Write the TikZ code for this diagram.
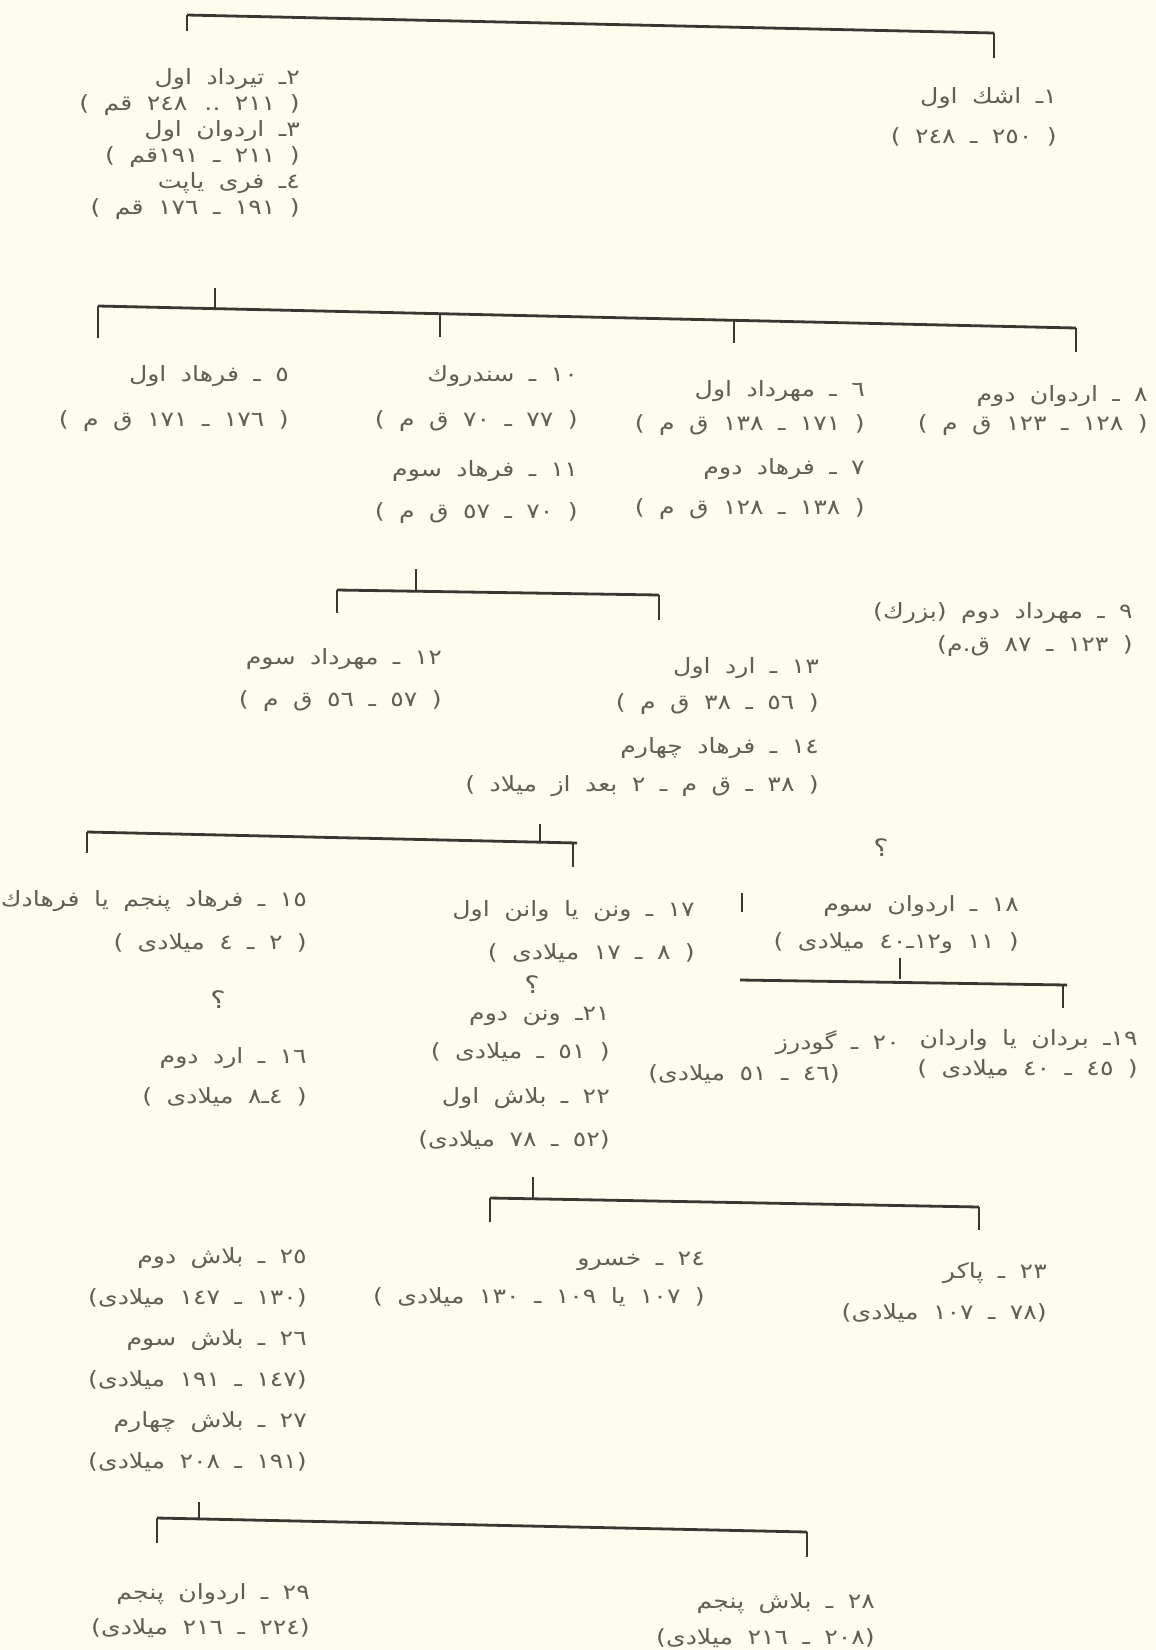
\documentclass[tikz,border=0pt]{standalone}
\usepackage{fontspec}
\newfontfamily\fa[Script=Arabic,WordSpace=1.8,FakeStretch=1.2]{DejaVu Sans}
\TeXXeTstate=1
\definecolor{paper}{RGB}{253,252,237}
\definecolor{ink}{RGB}{58,54,48}
\definecolor{type}{RGB}{98,94,86}
\newcommand\rtl[1]{\beginR#1\endR}

\begin{document}
\begin{tikzpicture}[x=1pt, y=-1pt,
  king/.style={font=\fa\fontsize{21}{26}\selectfont, text=type, align=right, anchor=north east, inner sep=0pt},
  query/.style={font=\fa\fontsize{24}{24}\selectfont, text=type, inner sep=0pt},
  bar/.style={draw=ink, line width=2.8pt},
  tick/.style={draw=ink, line width=2.6pt}
]
\fill[paper] (0,0) rectangle (1156,1650);

% kings
\node[king] (k1) at (1057,87) {\rtl{١ـ اشك اول}\\[14pt]\rtl{( ٢٥٠ ـ ٢٤٨ )}};
\node[king] (k2) at (300,68) {\rtl{٢ـ تيرداد اول}\\\rtl{( ٢١١ .. ٢٤٨ قم )}\\\rtl{٣ـ اردوان اول}\\\rtl{( ٢١١ ـ ١٩١قم )}\\\rtl{٤ـ فری ياپت}\\\rtl{( ١٩١ ـ ١٧٦ قم )}};
\node[king] (k5) at (289,365) {\rtl{٥ ـ فرهاد اول}\\[19pt]\rtl{( ١٧٦ ـ ١٧١ ق م )}};
\node[king] (k10) at (578,365) {\rtl{١٠ ـ سندروك}\\[19pt]\rtl{( ٧٧ ـ ٧٠ ق م )}\\[24pt]\rtl{١١ ـ فرهاد سوم}\\[16pt]\rtl{( ٧٠ ـ ٥٧ ق م )}};
\node[king] (k6) at (865,380) {\rtl{٦ ـ مهرداد اول}\\[8pt]\rtl{( ١٧١ ـ ١٣٨ ق م )}\\[18pt]\rtl{٧ ـ فرهاد دوم}\\[14pt]\rtl{( ١٣٨ ـ ١٢٨ ق م )}};
\node[king] (k8) at (1148,385) {\rtl{٨ ـ اردوان دوم}\\[3pt]\rtl{( ١٢٨ ـ ١٢٣ ق م )}};
\node[king] (k9) at (1133,602) {\rtl{٩ ـ مهرداد دوم (بزرك)}\\[7pt]\rtl{( ١٢٣ ـ ٨٧ ق.م)}};
\node[king] (k12) at (442,648) {\rtl{١٢ ـ مهرداد سوم}\\[16pt]\rtl{( ٥٧ ـ ٥٦ ق م )}};
\node[king] (k13) at (819,657) {\rtl{١٣ ـ ارد اول}\\[10pt]\rtl{( ٥٦ ـ ٣٨ ق م )}\\[18pt]\rtl{١٤ ـ فرهاد چهارم}\\[12pt]\rtl{( ٣٨ ـ ق م ـ ٢ بعد از ميلاد )}};
\node[king] (k15) at (307,890) {\rtl{١٥ ـ فرهاد پنجم یا فرهادك}\\[17pt]\rtl{( ٢ ـ ٤ ميلادی )}};
\node[king] (k16) at (307,1047) {\rtl{١٦ ـ ارد دوم}\\[14pt]\rtl{( ٤ـ٨ ميلادی )}};
\node[king] (k17) at (695,900) {\rtl{١٧ ـ ونن یا وانن اول}\\[17pt]\rtl{( ٨ ـ ١٧ ميلادی )}};
\node[king] (k21) at (610,1007) {\rtl{٢١ـ ونن دوم}\\[12pt]\rtl{( ٥١ ـ ميلادی )}\\[19pt]\rtl{٢٢ ـ بلاش اول}\\[17pt]\rtl{(٥٢ ـ ٧٨ ميلادی)}};
\node[king] (k18) at (1019,895) {\rtl{١٨ ـ اردوان سوم}\\[11pt]\rtl{( ١١ و١٢ـ٤٠ ميلادی )}};
\node[king] (k19) at (1138,1029) {\rtl{١٩ـ بردان یا واردان}\\[4pt]\rtl{( ٤٥ ـ ٤٠ ميلادی )}};
\node[king] (k20) at (900,1030) {\rtl{٢٠ ـ گودرز}};
\node[king] (k20d) at (840,1064) {\rtl{(٤٦ ـ ٥١ ميلادی)}};
\node[king] (k23) at (1047,1262) {\rtl{٢٣ ـ پاكر}\\[15pt]\rtl{(٧٨ ـ ١٠٧ ميلادی)}};
\node[king] (k24) at (705,1252) {\rtl{٢٤ ـ خسرو}\\[12pt]\rtl{( ١٠٧ یا ١٠٩ ـ ١٣٠ ميلادی )}};
\node[king] (k25) at (307,1247) {\rtl{٢٥ ـ بلاش دوم}\\[15pt]\rtl{(١٣٠ ـ ١٤٧ ميلادی)}\\[15pt]\rtl{٢٦ ـ بلاش سوم}\\[15pt]\rtl{(١٤٧ ـ ١٩١ ميلادی)}\\[15pt]\rtl{٢٧ ـ بلاش چهارم}\\[15pt]\rtl{(١٩١ ـ ٢٠٨ ميلادی)}};
\node[king] (k28) at (875,1592) {\rtl{٢٨ ـ بلاش پنجم}\\[10pt]\rtl{(٢٠٨ ـ ٢١٦ ميلادی)}};
\node[king] (k29) at (310,1583) {\rtl{٢٩ ـ اردوان پنجم}\\[9pt]\rtl{(٢٢٤ ـ ٢١٦ ميلادی)}};

% doubtful links
\node[query] (q18) at (881,848) {؟};
\node[query] (q15) at (218,1000) {؟};
\node[query] (q17) at (532,985) {؟};

% family bars
\coordinate (b1l) at (187,15);
\coordinate (b1r) at (994,33);
\draw[bar] (b1l) -- (b1r);
\draw[tick] (b1l) -- ++(0,16);
\draw[tick] (b1r) -- ++(0,25);

\coordinate (b2l) at (98,306);
\coordinate (b2r) at (1076,328);
\draw[bar] (b2l) -- (b2r);
\draw[tick] (215,308) -- ++(0,-20);
\draw[tick] (b2l) -- ++(0,32);
\draw[tick] (440,313) -- ++(0,24);
\draw[tick] (734,320) -- ++(0,23);
\draw[tick] (b2r) -- ++(0,24);

\coordinate (b3l) at (337,590);
\coordinate (b3r) at (659,595);
\draw[bar] (b3l) -- (b3r);
\draw[tick] (416,591) -- ++(0,-22);
\draw[tick] (b3l) -- ++(0,23);
\draw[tick] (b3r) -- ++(0,25);

\coordinate (b4l) at (87,832);
\coordinate (b4r) at (577,843);
\draw[bar] (b4l) -- (b4r);
\draw[tick] (540,842) -- ++(0,-18);
\draw[tick] (b4l) -- ++(0,21);
\draw[tick] (573,843) -- ++(0,24);

\coordinate (s18) at (742,893);
\draw[tick] (s18) -- ++(0,19);

\coordinate (b5l) at (740,980);
\coordinate (b5r) at (1067,985);
\draw[bar] (b5l) -- (b5r);
\draw[tick] (900,979) -- ++(0,-21);
\draw[tick] (1063,985) -- ++(0,23);

\coordinate (b6l) at (490,1198);
\coordinate (b6r) at (979,1207);
\draw[bar] (b6l) -- (b6r);
\draw[tick] (533,1199) -- ++(0,-22);
\draw[tick] (b6l) -- ++(0,24);
\draw[tick] (b6r) -- ++(0,23);

\coordinate (b7l) at (157,1518);
\coordinate (b7r) at (807,1532);
\draw[bar] (b7l) -- (b7r);
\draw[tick] (199,1519) -- ++(0,-17);
\draw[tick] (b7l) -- ++(0,25);
\draw[tick] (b7r) -- ++(0,25);
\end{tikzpicture}
\end{document}
